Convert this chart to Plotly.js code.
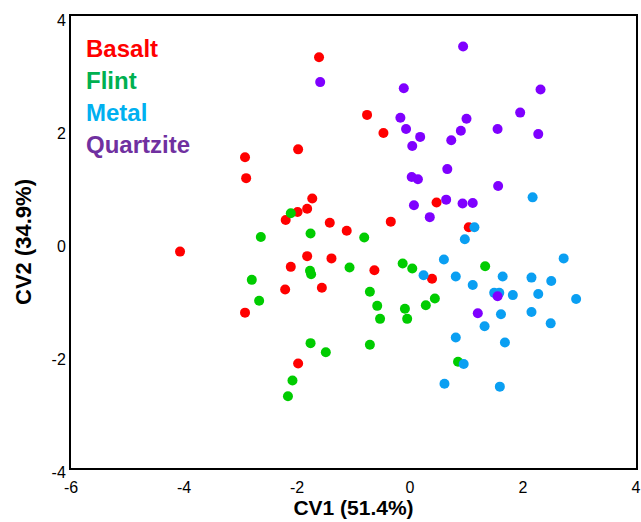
<!DOCTYPE html>
<html>
<head>
<meta charset="utf-8">
<script src="https://cdn.plot.ly/plotly-3.0.1.min.js"></script>
<style>html,body{margin:0;padding:0;background:#fff;}#chart{width:641px;height:522px;}</style>
</head>
<body>
<div id="chart"></div>
<script>
var categories = ['Basalt', 'Flint', 'Metal', 'Quartzite'];

var basaltX = [-1.61, -0.76, -0.47, -1.98, -2.92, -2.90, -1.73, -1.82, -1.99, -2.20, -1.42, -1.12, -0.34, -4.07, -1.82, -1.39, -2.11, -0.63, -2.21, -1.56, -2.92, -1.98, 0.47, 1.04, 0.39];
var basaltY = [3.27, 2.25, 1.93, 1.64, 1.50, 1.13, 0.77, 0.59, 0.53, 0.39, 0.34, 0.20, 0.36, -0.17, -0.25, -0.29, -0.44, -0.50, -0.84, -0.81, -1.25, -2.15, 0.70, 0.26, -0.65];

var flintX = [-2.11, -2.64, -1.76, -0.81, -2.80, -1.75, -1.77, -1.07, -2.67, -0.71, -0.58, -0.53, -1.76, -1.49, -0.71, -2.08, -2.16, -0.13, 0.04, 1.33, -0.09, -0.05, 0.28, 0.44, 0.85];
var flintY = [0.51, 0.09, 0.15, 0.08, -0.67, -0.57, -0.51, -0.45, -1.04, -0.88, -1.13, -1.36, -1.79, -1.95, -1.82, -2.45, -2.73, -0.38, -0.47, -0.43, -1.18, -1.36, -1.12, -1.00, -2.12];

var metalX = [2.17, 1.14, 0.97, 0.60, 2.72, 0.24, 0.81, 1.11, 1.64, 2.15, 2.50, 1.49, 1.58, 1.82, 2.27, 2.94, 2.15, 2.49, 1.61, 1.32, 0.81, 1.68, 0.95, 0.61, 1.59];
var metalY = [0.79, 0.26, 0.05, -0.31, -0.29, -0.59, -0.61, -0.76, -0.61, -0.63, -0.69, -0.90, -0.90, -0.94, -0.92, -1.01, -1.24, -1.44, -1.28, -1.49, -1.69, -1.78, -2.16, -2.51, -2.56];

var quartziteX = [0.94, -0.11, 2.31, 1.95, -0.17, -0.07, 0.18, 0.04, 1.00, 0.90, 0.73, 1.55, 2.27, 0.66, 0.03, 0.14, 1.56, 0.07, 0.64, 0.93, 1.11, 0.35, 1.55, 1.20, -1.59];
var quartziteY = [3.46, 2.72, 2.70, 2.29, 2.20, 2.00, 1.86, 1.70, 2.18, 1.97, 1.80, 2.00, 1.91, 1.29, 1.15, 1.11, 0.99, 0.65, 0.75, 0.68, 0.69, 0.44, -0.96, -1.26, 2.83];

var xTicks = [-6, -4, -2, 0, 2, 4];
var xTickLabels = ['-6', '-4', '-2', '0', '2', '4'];
var yTicks = [-4, -2, 0, 2, 4];
var yTickLabels = ['-4', '-2', '0', '2', '4'];

var markerColors = ['#ff0000', '#00cc00', '#0a9ff2', '#7f00ff'];
var labelColors = ['#ff0000', '#00b050', '#00b0f0', '#7030a0'];

var seriesX = [basaltX, flintX, metalX, quartziteX];
var seriesY = [basaltY, flintY, metalY, quartziteY];

var traces = categories.map(function (name, i) {
  return {
    type: 'scatter', mode: 'markers', name: name,
    x: seriesX[i], y: seriesY[i],
    marker: {color: markerColors[i], size: 10, line: {width: 0}},
    hoverinfo: 'x+y+name'
  };
});

var annotations = categories.map(function (name, i) {
  return {
    xref: 'paper', yref: 'paper', x: 0.023, y: 0.929 - i * 0.071,
    xanchor: 'left', yanchor: 'middle', showarrow: false,
    text: '<b>' + name + '</b>',
    font: {family: 'Liberation Sans, Arial, sans-serif', size: 24, color: labelColors[i]}
  };
});

var layout = {
  width: 641, height: 522,
  margin: {l: 71, r: 5, t: 16, b: 54},
  paper_bgcolor: '#ffffff', plot_bgcolor: '#ffffff',
  showlegend: false,
  font: {family: 'Liberation Sans, Arial, sans-serif', color: '#000'},
  xaxis: {
    range: [-6, 4], tickmode: 'array', tickvals: xTicks, ticktext: xTickLabels,
    showgrid: false, zeroline: false, showline: true, mirror: true,
    linecolor: '#000', linewidth: 2, ticks: '', ticklen: 0,
    ticklabelstandoff: 4,
    tickfont: {size: 16, color: '#000'},
    title: {text: '<b>CV1 (51.4%)</b>', font: {size: 21, color: '#000'}, standoff: 5},
    automargin: false
  },
  yaxis: {
    range: [-4, 4], tickmode: 'array', tickvals: yTicks, ticktext: yTickLabels,
    showgrid: false, zeroline: false, showline: true, mirror: true,
    linecolor: '#000', linewidth: 2, ticks: '', ticklen: 0,
    ticklabelshift: 4,
    tickfont: {size: 16, color: '#000'},
    title: {text: '<b>CV2 (34.9%)</b>', font: {size: 22, color: '#000'}, standoff: 14},
    automargin: false
  },
  annotations: annotations
};

Plotly.newPlot('chart', traces, layout, {displayModeBar: false, staticPlot: true});
</script>
</body>
</html>
